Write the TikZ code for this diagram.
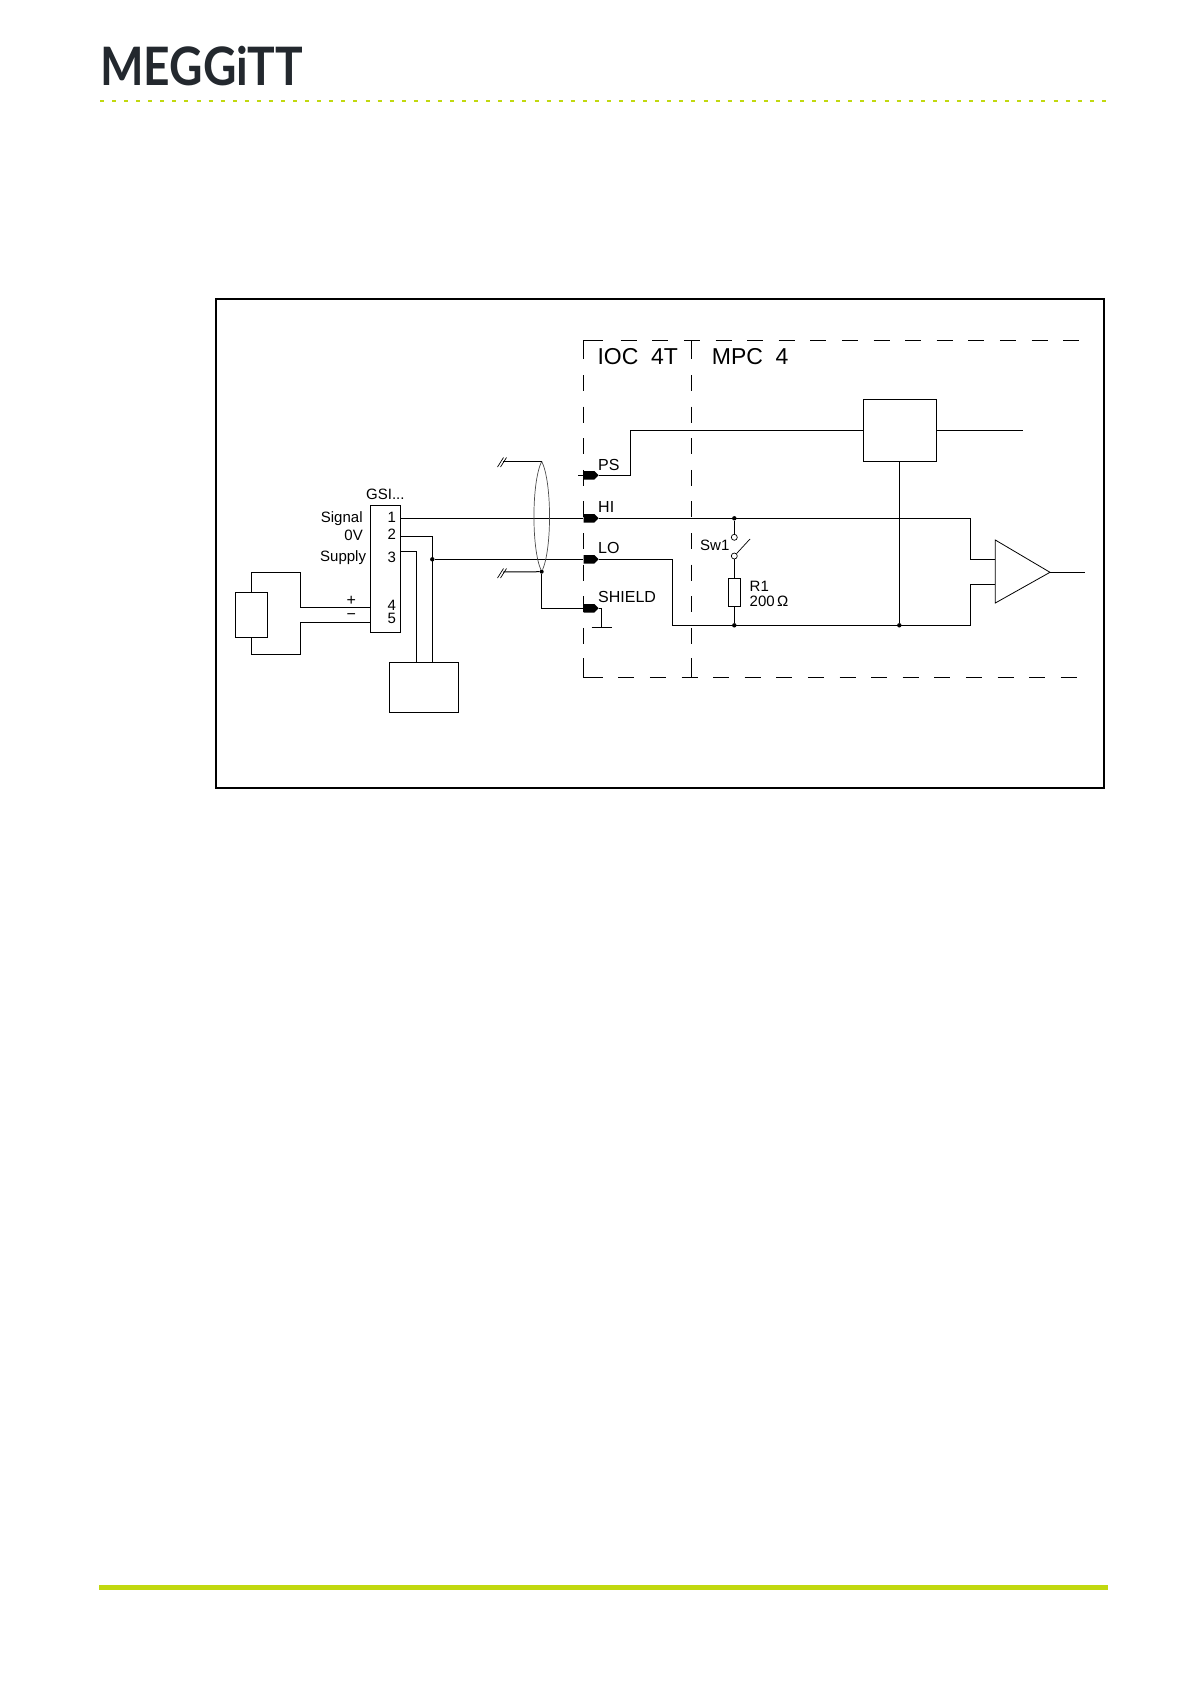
\documentclass[tikz,border=0pt]{standalone}
\usepackage{fontspec}
\setmainfont{Liberation Sans}
\newfontfamily\logofont{Lato}
\usetikzlibrary{shapes.symbols,shapes.geometric}
\definecolor{meglime}{HTML}{C1D80F}
\definecolor{megdark}{HTML}{23282E}
\tikzset{
  wire/.style={line width=1pt},
  box/.style={draw, line width=1pt, inner sep=0pt},
  plug/.style={signal, signal to=east, fill=black, inner sep=0pt, minimum width=15pt, minimum height=8.5pt},
  dot/.style={circle, fill=black, inner sep=0pt, minimum size=4.4pt},
  contact/.style={circle, draw, fill=white, line width=0.7pt, inner sep=0pt, minimum size=6pt},
  cadlabel/.style={anchor=base west, inner sep=0pt, font=\fontsize{15}{15}\selectfont},
  pinlabel/.style={cadlabel, font=\fontsize{16}{16}\selectfont},
  grouplabel/.style={cadlabel, font=\fontsize{23}{23}\selectfont},
  breakmark/.style={line width=0.7pt},
  groupline/.style={line width=1pt, dash pattern=on 16pt off 15.6pt}
}
\begin{document}
\begin{tikzpicture}[x=1pt, y=-1pt]
\useasboundingbox (0,0) rectangle (1190,1684);
% page furniture
\node[anchor=base west, inner sep=0pt, text=megdark, font=\logofont\bfseries\fontsize{53}{53}\selectfont, xscale=0.87, transform shape] (logo) at (100,85) {MEGGiTT};
\coordinate (dotsl) at (100,100.7);
\coordinate (dotsr) at (1106,100.7);
\draw[meglime, line width=2pt, dash pattern=on 4pt off 8.07pt] (dotsl) -- (dotsr);
\fill[meglime] (99,1584.7) rectangle (1108,1590);
\draw[line width=2pt] (216,299) rectangle (1104,788);

% boxes
\node[box, minimum width=30pt, minimum height=127pt] (gsi) at (385.7,568.8) {};
\node[box, minimum width=32pt, minimum height=45pt] (sensor) at (251.3,614.8) {};
\node[box, minimum width=69.4pt, minimum height=50pt] (supply) at (424,687.3) {};
\node[box, minimum width=73pt, minimum height=62pt] (block) at (899.8,430.3) {};
\node[box, minimum width=12pt, minimum height=28pt] (res) at (734.3,592.3) {};
\coordinate (ampa) at (995.3,540);
\coordinate (ampb) at (995.3,603);
\coordinate (ampc) at (1050,572.3);
\draw[line width=0.8pt] (ampa) -- (ampc) -- (ampb) -- cycle;

% plugs
\node[plug] (ps) at (589,475.3) {};
\node[plug] (hi) at (589,518.3) {};
\node[plug] (lo) at (589,559.3) {};
\node[plug] (shield) at (589,608.3) {};

% dashed groups
\draw[wire] (583.3,359) -- (583.3,340.3) -- (603,340.3);
\draw[wire] (583.3,658.4) -- (583.3,677.3) -- (603,677.3);
\draw[groupline] (620.7,340.3) -- (1081,340.3);
\draw[groupline] (618.3,677.3) -- (1079.3,677.3);
\draw[groupline] (583.3,375) -- (583.3,658.4);
\draw[wire] (691.3,340.3) -- (691.3,359);
\draw[wire] (691.3,658.4) -- (691.3,677.3);
\draw[groupline] (691.3,375) -- (691.3,658.4);

% GSI side
\draw[wire] (sensor.north) -- ++(0,-19) -| (300.3,607.3) -- (gsi.west |- 0,607.3);
\draw[wire] (sensor.south) -- ++(0,17) -| (300.3,622.3) -- (gsi.west |- 0,622.3);
\draw[wire] (gsi.east |- 0,518.3) -- (hi.west);
\draw[wire] (gsi.east |- 0,536.7) -| (supply.north -| 432.3,0);
\draw[wire] (gsi.east |- 0,551.3) -| (supply.north -| 416.3,0);
\node[dot] (jlo) at (432.3,559.3) {};
\draw[wire] (jlo) -- (lo.west);
\draw[wire] (578,475.3) -- (ps.west);

% shield and screen
\coordinate (scrtop) at (541.7,461.3);
\node[dot, minimum size=4pt] (scrbot) at (541.7,571.7) {};
\coordinate (brka) at (503,461.3);
\coordinate (brkb) at (503,572);
\coordinate (gnd) at (601.7,627.3);
\draw[line width=0.7pt, black!70] (scrtop) .. controls (531.5,482) and (531.5,548) .. (scrbot) .. controls (552,548) and (552,482) .. (scrtop);
\draw[wire] (brka) -- (scrtop);
\draw[wire] (brkb) -- (scrbot);
\draw[wire] (scrbot) |- (shield.west);
\draw[breakmark] (497.5,467) -- (503.5,457.5) (500.5,467) -- (506.5,457.5);
\draw[breakmark] (497.5,578) -- (503.5,568.5) (500.5,578) -- (506.5,568.5);
\draw[wire] (shield.east) -- (gnd |- shield.east) -- (gnd);
\draw[wire] (591.5,627.3) -- (612,627.3);

% right side wiring
\coordinate (psbend) at (630.3,430.3);
\draw[wire] (ps.east) -| (psbend) -- (block.west);
\coordinate (blockout) at (1022.7,430.3);
\draw[wire] (block.east) -- (blockout);
\coordinate (ampin) at (970.3,518.3);
\draw[wire] (hi.east) -- (ampin) |- (995.3,559.3);
\coordinate (lobend) at (672.3,625.3);
\node[dot] (jlow) at (734.3,625.3) {};
\node[dot] (jblock) at (899.3,625.3) {};
\coordinate (ampinb) at (970.3,625.3);
\draw[wire] (lo.east) -| (lobend) -- (ampinb) |- (995.3,584.3);
\draw[wire] (block.south -| jblock) -- (jblock);
\coordinate (ampout) at (1085,572.3);
\draw[wire] (ampc) -- (ampout);

% switch and resistor
\node[dot] (jhi) at (734.3,518.3) {};
\node[contact] (swa) at (734.3,537.3) {};
\node[contact] (swb) at (734.3,556) {};
\coordinate (swarm) at (750,539);
\draw[wire] (jhi) -- (swa);
\draw[line width=0.7pt] (swb) -- (swarm);
\draw[wire] (swb) -- (res.north);
\draw[wire] (res.south) -- (jlow);

% labels
\node[grouplabel] (lblioc) at (597.3,364.3) {IOC\hspace{0.55em}4T};
\node[grouplabel] (lblmpc) at (711.7,364.3) {MPC\hspace{0.55em}4};
\node[pinlabel] (lblps) at (598,470) {PS};
\node[pinlabel] (lblhi) at (598,512.7) {HI};
\node[pinlabel] (lblo) at (598,553.3) {LO};
\node[pinlabel] (lblsh) at (598,602.3) {SHIELD};
\node[cadlabel] (lblsw) at (700,550) {Sw1};
\node[cadlabel] (lblr) at (749.5,591) {R1};
\node[cadlabel] (lblohm) at (749.5,606.7) {200\,Ω};
\node[cadlabel] (lblgsi) at (366,499) {GSI...};
\node[cadlabel] (lblsig) at (320.7,522) {Signal};
\node[cadlabel, anchor=base east] (lblzero) at (363,540) {0V};
\node[cadlabel] (lblsup) at (320,561.7) {Supply};
\node[cadlabel, anchor=base] (n1) at (391.7,522.7) {1};
\node[cadlabel, anchor=base] (n2) at (391.7,539) {2};
\node[cadlabel, anchor=base] (n3) at (391.7,562.7) {3};
\node[cadlabel, anchor=base] (n4) at (391.7,610) {4};
\node[cadlabel, anchor=base] (n5) at (391.7,623) {5};
\node[anchor=center, inner sep=0pt, font=\fontsize{16}{16}\selectfont] (lblplus) at (351.3,600.7) {+};
\node[anchor=center, inner sep=0pt, font=\fontsize{16}{16}\selectfont] (lblminus) at (351.3,616.3) {−};
\end{tikzpicture}
\end{document}
